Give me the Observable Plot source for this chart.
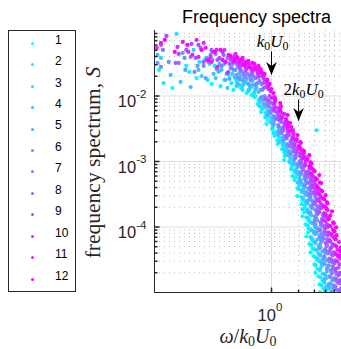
<!DOCTYPE html>
<html><head><meta charset="utf-8">
<script src="https://cdn.jsdelivr.net/npm/d3@7"></script>
<script src="https://cdn.jsdelivr.net/npm/@observablehq/plot@0.6"></script>
<style>
html,body{margin:0;padding:0;background:#fff;overflow:hidden;}
#wrap{position:relative;width:341px;height:349px;}
#wrap svg{display:block;}
#legend{position:absolute;left:8px;top:30px;width:66px;height:260px;border:1px solid #262626;background:#fff;}
.row{position:absolute;left:0;width:100%;height:21.45px;}
.sw{position:absolute;left:21.5px;top:9.2px;width:3px;height:3px;border-radius:50%;}
.lb{position:absolute;left:46px;top:0;line-height:21.45px;font:12px "Liberation Sans",Arial,sans-serif;color:#000;}
</style></head><body><div id="wrap"></div>
<script>
// ---- data (omega/k0U0, S) per series ----
const seriesNames = ["1","2","3","4","5","6","7","8","9","10","11","12"];
const s1 = [[0.056,0.025],[0.079,0.0133],[0.113,0.0288],[0.147,0.0188],[0.18,0.0355],[0.215,0.0153],[0.258,0.0233],[0.3,0.0176],[0.341,0.0202],[0.378,0.0124],[0.409,0.0164],[0.453,0.0133],[0.489,0.0153],[0.528,0.0111],[0.57,0.0128],[0.599,0.0104],
[0.664,0.01],[0.717,0.00869],[0.699,0.00755],[0.774,0.00656],[0.765,0.00569],[0.926,0.00494],[0.902,0.0043],[0.88,0.00373],[1.026,0.00324],[1.108,0.00282],[1.08,0.00245],[1.166,0.00212],[1.17,0.00185],[1.395,0.0016],[1.39,0.00139],[1.4,0.00121],[1.38,0.00105],[1.668,0.00091],[1.66,0.00079],[1.801,0.00069],[1.711,0.0006],[1.8,0.00052],[2.047,0.00045],[1.945,0.00039],[2.154,0.00034],[1.94,0.000296],[2.21,0.000257],[2.154,0.000223],[2.387,0.000194],[2.326,0.000168],[2.21,0.000146],[2.577,0.000127],[2.387,0.00011],[2.577,9.6e-5],[2.55,8.3e-5],[2.448,7.2e-5],[2.855,6.3e-5],[2.644,5.5e-5],[2.855,4.7e-5],[2.712,4.1e-5],[2.929,3.6e-5],[3.244,3.1e-5],[3.005,2.7e-5],[3.22,2.3e-5],[3.082,2e-5],[3.328,1.77e-5],[3.687,1.54e-5],[3.415,1.33e-5],[3.783,1.16e-5],[3.45,1.01e-5]];
const s2 = [[0.063,0.0158],[0.088,0.0887],[0.122,0.0233],[0.158,0.0331],[0.195,0.0176],[0.233,0.0288],[0.271,0.0142],[0.316,0.0217],[0.359,0.0158],[0.398,0.0182],[0.441,0.0147],[0.476,0.0124],[0.514,0.0164],[0.555,0.0119],[0.599,0.0137],[0.631,0.0107],
[0.647,0.00966],[0.736,0.00839],[0.815,0.00729],[0.794,0.00633],[0.858,0.0055],[0.85,0.00477],[1.026,0.00415],[1.03,0.0036],[1.02,0.00313],[1.052,0.00272],[1.227,0.00236],[1.24,0.00205],[1.325,0.00178],[1.31,0.00155],[1.431,0.00134],[1.626,0.00117],[1.585,0.00101],[1.756,0.00088],[1.668,0.00076],[1.896,0.00066],[1.848,0.00058],[2.047,0.0005],[2.03,0.00043],[1.995,0.00038],[2.326,0.000328],[2.154,0.000286],[2.36,0.000248],[2.326,0.000215],[2.21,0.000187],[2.577,0.000163],[2.448,0.000141],[2.644,0.000122],[2.512,0.000106],[2.712,9.2e-5],[2.97,8e-5],[2.73,7e-5],[2.929,6.1e-5],[2.783,5.3e-5],[3.005,4.55e-5],[3.328,3.95e-5],[3.082,3.45e-5],[3.415,3e-5],[3.1,2.6e-5],[3.43,2.25e-5],[3.687,1.95e-5],[3.503,1.71e-5],[3.783,1.49e-5],[3.594,1.29e-5],[4.19,1.12e-5],[3.16,0.003]];
const s3 = [[0.059,0.0381],[0.0975,0.0164],[0.136,0.0505],[0.167,0.0202],[0.205,0.0309],[0.239,0.0188],[0.278,0.025],[0.324,0.0133],[0.369,0.0217],[0.409,0.0142],[0.441,0.0176],[0.476,0.0142],[0.514,0.0158],[0.555,0.0124],[0.599,0.0147],[0.647,0.0115],[0.681,0.0133],
[0.755,0.00932],[0.75,0.0081],[0.736,0.00703],[0.902,0.00611],[0.9,0.00531],[0.99,0.00461],[0.975,0.004],[1.04,0.00348],[1.22,0.00302],[1.196,0.00262],[1.325,0.00228],[1.227,0.00198],[1.431,0.00172],[1.42,0.00149],[1.626,0.0013],[1.62,0.00113],[1.585,0.00098],[1.945,0.00085],[1.848,0.00074],[1.995,0.00064],[2.03,0.00056],[1.945,0.00048],[2.268,0.00042],[2.154,0.000365],[2.387,0.000317],[2.25,0.000276],[2.448,0.000239],[2.712,0.000208],[2.512,0.000181],[2.7,0.000157],[2.577,0.000136],[2.75,0.000118],[3.03,0.000103],[2.783,8.9e-5],[3.082,7.8e-5],[2.79,6.7e-5],[3.07,5.9e-5],[3.328,5.1e-5],[3.162,4.4e-5],[3.415,3.8e-5],[3.244,3.3e-5],[3.783,2.9e-5],[3.594,2.5e-5],[3.44,2.2e-5],[3.881,1.9e-5],[4.084,1.65e-5],[3.87,1.43e-5],[4.06,1.24e-5],[3.95,1.08e-5]];
const s4 = [[0.054,0.0424],[0.0755,0.021],[0.126,0.0137],[0.154,0.025],[0.19,0.0381],[0.227,0.0217],[0.264,0.0309],[0.308,0.0176],[0.35,0.0268],[0.388,0.0195],[0.419,0.0153],[0.453,0.0202],[0.489,0.0164],[0.528,0.0182],[0.57,0.0142],[0.615,0.017],[0.664,0.0128],[0.717,0.0115],
[0.755,0.009],[0.88,0.00782],[0.858,0.00679],[0.975,0.0059],[0.902,0.00512],[1.052,0.00445],[1.04,0.00386],[1.196,0.00336],[1.19,0.00292],[1.18,0.00253],[1.431,0.0022],[1.359,0.00191],[1.506,0.00166],[1.545,0.00144],[1.52,0.00125],[1.801,0.00109],[1.78,0.00094],[1.945,0.00082],[1.896,0.00071],[2.08,0.00062],[2.326,0.00054],[2.154,0.00047],[2.34,0.0004],[2.25,0.000352],[2.448,0.000306],[2.73,0.000266],[2.512,0.000231],[2.783,0.000201],[2.52,0.000174],[2.79,0.000151],[3.02,0.000131],[2.855,0.000114],[3.082,9.9e-5],[2.929,8.6e-5],[3.415,7.5e-5],[3.244,6.5e-5],[3.07,5.7e-5],[3.503,4.9e-5],[3.687,4.25e-5],[3.49,3.7e-5],[3.68,3.2e-5],[3.594,2.8e-5],[4.19,2.4e-5],[4.12,2.1e-5],[3.981,1.83e-5],[3.881,1.6e-5],[4.525,1.38e-5],[4.41,1.2e-5],[4.6,1.04e-5]];
const s5 = [[0.054,0.032],[0.103,0.0455],[0.11,0.025],[0.15,0.0288],[0.185,0.0188],[0.221,0.0355],[0.258,0.0241],[0.3,0.0309],[0.341,0.0182],[0.378,0.025],[0.409,0.021],[0.441,0.0225],[0.476,0.0176],[0.514,0.0202],[0.555,0.0153],[0.599,0.0188],[0.647,0.0147],[0.699,0.0158],[0.755,0.0124],
[0.836,0.01],[0.815,0.00869],[0.826,0.00755],[0.99,0.00656],[0.95,0.00569],[1.052,0.00494],[1.08,0.0043],[1.06,0.00373],[1.27,0.00324],[1.24,0.00282],[1.377,0.00245],[1.35,0.00212],[1.49,0.00185],[1.7,0.0016],[1.61,0.00139],[1.79,0.00121],[1.756,0.00105],[1.945,0.00091],[2.21,0.00079],[2.08,0.00069],[2.32,0.0006],[2.1,0.00052],[2.36,0.00045],[2.56,0.00039],[2.45,0.00034],[2.67,0.000296],[2.56,0.000257],[2.98,0.000223],[2.83,0.000194],[2.69,0.000168],[3.06,0.000146],[3.22,0.000127],[3.08,0.00011],[3.23,9.6e-5],[3.15,8.3e-5],[3.66,7.2e-5],[3.57,6.3e-5],[3.48,5.5e-5],[3.39,4.7e-5],[3.95,4.1e-5],[3.87,3.6e-5],[4.084,3.1e-5],[3.9,2.7e-5],[4.12,2.3e-5],[4.7,2e-5],[4.44,1.77e-5],[4.77,1.54e-5],[4.31,1.33e-5],[4.87,1.16e-5],[4.74,1.01e-5]];
const s6 = [[0.059,0.0278],[0.072,0.0331],[0.108,0.0381],[0.139,0.0233],[0.176,0.0288],[0.21,0.0424],[0.245,0.0259],[0.285,0.0355],[0.333,0.0233],[0.369,0.0309],[0.398,0.025],[0.43,0.0188],[0.464,0.0241],[0.501,0.0195],[0.541,0.0217],[0.584,0.0176],[0.631,0.0202],[0.681,0.0153],[0.736,0.017],[0.794,0.0124],
[0.774,0.00966],[0.92,0.00839],[0.902,0.00729],[1.0,0.00633],[0.98,0.0055],[1.094,0.00477],[1.245,0.00415],[1.19,0.0036],[1.32,0.00313],[1.29,0.00272],[1.43,0.00236],[1.626,0.00205],[1.55,0.00178],[1.76,0.00155],[1.64,0.00134],[1.86,0.00117],[2.06,0.00101],[2.02,0.00088],[2.24,0.00076],[2.154,0.00066],[2.53,0.00058],[2.43,0.0005],[2.326,0.00043],[2.66,0.00038],[2.83,0.000328],[2.71,0.000286],[2.86,0.000248],[2.8,0.000215],[3.27,0.000187],[3.19,0.000163],[3.1,0.000141],[3.03,0.000122],[3.55,0.000106],[3.47,9.2e-5],[3.64,8e-5],[3.46,7e-5],[3.62,6.1e-5],[4.14,5.3e-5],[3.93,4.55e-5],[4.25,3.95e-5],[3.86,3.45e-5],[4.41,3e-5],[4.32,2.6e-5],[4.8,2.25e-5],[4.68,1.95e-5],[4.55,1.71e-5],[5.29,1.49e-5],[4.886,1.29e-5],[5.26,1.12e-5]];
const s7 = [[0.062,0.0505],[0.093,0.032],[0.126,0.0395],[0.163,0.0542],[0.1995,0.0331],[0.239,0.0439],[0.278,0.0288],[0.324,0.0381],[0.359,0.0268],[0.388,0.0343],[0.419,0.0288],[0.453,0.025],[0.489,0.0217],[0.528,0.0268],[0.57,0.0202],[0.615,0.0233],[0.664,0.0188],[0.717,0.0195],[0.774,0.0153],[0.815,0.0133],
[0.86,0.00932],[0.95,0.0081],[0.93,0.00703],[1.04,0.00611],[1.18,0.00531],[1.13,0.00461],[1.29,0.004],[1.196,0.00348],[1.36,0.00302],[1.51,0.00262],[1.48,0.00228],[1.64,0.00198],[1.6,0.00172],[1.92,0.00149],[1.88,0.0013],[1.83,0.00113],[2.14,0.00098],[2.32,0.00085],[2.268,0.00074],[2.4,0.00064],[2.37,0.00056],[2.783,0.00048],[2.73,0.00042],[2.7,0.000365],[2.65,0.000317],[3.11,0.000276],[3.05,0.000239],[3.22,0.000208],[3.08,0.000181],[3.24,0.000157],[3.687,0.000136],[3.51,0.000118],[3.79,0.000103],[3.43,8.9e-5],[3.91,7.8e-5],[3.81,6.7e-5],[4.22,5.9e-5],[4.11,5.1e-5],[4.01,4.4e-5],[4.7,3.8e-5],[4.38,3.3e-5],[4.75,2.9e-5],[4.79,2.5e-5],[4.57,2.2e-5],[5.32,1.9e-5],[5.04,1.65e-5],[5.43,1.43e-5],[5.142,1.24e-5],[5.54,1.08e-5]];
const s8 = [[0.059,0.0602],[0.086,0.032],[0.113,0.0505],[0.143,0.0381],[0.176,0.0331],[0.215,0.0505],[0.251,0.0355],[0.293,0.0424],[0.341,0.0309],[0.378,0.0381],[0.409,0.032],[0.441,0.0268],[0.476,0.0309],[0.514,0.0241],[0.555,0.0278],[0.599,0.0217],[0.647,0.025],[0.699,0.0195],[0.755,0.0202],[0.815,0.0158],[0.858,0.0137],
[0.86,0.009],[0.99,0.00782],[1.1,0.00679],[1.075,0.0059],[1.196,0.00512],[1.17,0.00445],[1.4,0.00386],[1.37,0.00336],[1.33,0.00292],[1.57,0.00253],[1.7,0.0022],[1.66,0.00191],[1.79,0.00166],[1.78,0.00144],[2.16,0.00125],[2.17,0.00109],[2.13,0.00094],[2.19,0.00082],[2.6,0.00071],[2.56,0.00062],[2.72,0.00054],[2.59,0.00047],[2.77,0.0004],[3.18,0.000352],[3.04,0.000306],[3.328,0.000266],[3.01,0.000231],[3.44,0.000201],[3.36,0.000174],[3.74,0.000151],[3.66,0.000131],[3.57,0.000114],[4.18,9.9e-5],[3.881,8.6e-5],[4.21,7.5e-5],[4.2,6.5e-5],[3.99,5.7e-5],[4.65,4.9e-5],[4.43,4.25e-5],[4.81,3.7e-5],[4.61,3.2e-5],[5.0,2.8e-5],[5.56,2.4e-5],[5.17,2.1e-5],[5.58,1.83e-5],[5.29,1.6e-5],[5.7,1.38e-5],[5.84,1.04e-5]];
const s9 = [[0.068,0.0827],[0.093,0.0439],[0.129,0.0624],[0.154,0.0602],[0.19,0.0355],[0.221,0.0471],[0.264,0.0381],[0.3,0.0505],[0.35,0.0355],[0.388,0.0409],[0.419,0.0331],[0.453,0.0288],[0.489,0.0331],[0.528,0.0259],[0.57,0.0298],[0.615,0.0241],[0.664,0.0268],[0.717,0.021],[0.774,0.0225],[0.836,0.0176],[0.902,0.0137],
[0.95,0.01],[0.915,0.00869],[1.07,0.00755],[1.16,0.00656],[1.14,0.00569],[1.24,0.00494],[1.245,0.0043],[1.49,0.00373],[1.5,0.00324],[1.51,0.00282],[1.47,0.00245],[1.8,0.00212],[1.81,0.00185],[1.95,0.0016],[1.91,0.00139],[2.07,0.00121],[2.43,0.00105],[2.37,0.00091],[2.644,0.00079],[2.44,0.00069],[2.79,0.0006],[2.75,0.00052],[3.07,0.00045],[3.02,0.00039],[2.98,0.00034],[3.51,0.000296],[3.27,0.000257],[3.56,0.000223],[3.58,0.000194],[3.41,0.000168],[3.99,0.000146],[3.8,0.000127],[4.12,0.00011],[3.94,9.6e-5],[4.26,8.3e-5],[4.74,7.2e-5],[4.4,6.3e-5],[4.762,5.5e-5],[4.525,4.7e-5],[4.91,4.1e-5],[5.47,3.6e-5],[5.1,3.1e-5],[5.69,2.7e-5],[5.17,2.3e-5],[5.75,2e-5],[5.87,1.54e-5],[5.97,1.16e-5]];
const s10 = [[0.053,0.0542],[0.09,0.0561],[0.119,0.0471],[0.147,0.0718],[0.176,0.0646],[0.21,0.0395],[0.251,0.0278],[0.285,0.0471],[0.324,0.0225],[0.359,0.0381],[0.398,0.0439],[0.441,0.0309],[0.476,0.0355],[0.514,0.0278],[0.555,0.032],[0.599,0.025],[0.647,0.0288],[0.699,0.0225],[0.755,0.0233],[0.815,0.0188],[0.88,0.0158],[0.926,0.0128],
[1.08,0.00966],[1.09,0.00839],[1.07,0.00729],[1.065,0.00633],[1.31,0.0055],[1.32,0.00477],[1.43,0.00415],[1.4,0.0036],[1.51,0.00313],[1.76,0.00272],[1.73,0.00236],[1.92,0.00205],[1.78,0.00178],[2.09,0.00155],[2.11,0.00134],[2.387,0.00117],[2.4,0.00101],[2.36,0.00088],[2.89,0.00076],[2.712,0.00066],[2.95,0.00058],[3.0,0.0005],[2.87,0.00043],[3.38,0.00038],[3.25,0.000328],[3.55,0.000286],[3.41,0.000248],[3.69,0.000215],[4.1,0.000187],[3.83,0.000163],[4.15,0.000141],[3.97,0.000122],[4.31,0.000106],[4.8,9.2e-5],[4.47,8e-5],[4.96,7e-5],[4.49,6.1e-5],[4.98,5.3e-5],[5.4,4.55e-5],[5.16,3.95e-5],[5.61,3.45e-5],[5.37,3e-5]];
const s11 = [[0.059,0.0646],[0.103,0.0669],[0.132,0.0424],[0.154,0.0395],[0.185,0.0542],[0.215,0.0331],[0.245,0.0505],[0.285,0.0355],[0.333,0.0424],[0.378,0.0331],[0.409,0.0395],[0.441,0.0331],[0.476,0.0381],[0.514,0.0298],[0.555,0.0343],[0.599,0.0268],[0.647,0.0309],[0.699,0.025],[0.755,0.0259],[0.815,0.0202],[0.88,0.0176],[0.926,0.0142],[0.975,0.0119],
[1.01,0.00932],[1.085,0.0081],[1.27,0.00703],[1.25,0.00611],[1.39,0.00531],[1.29,0.00461],[1.51,0.004],[1.52,0.00348],[1.73,0.00302],[1.75,0.00262],[1.71,0.00228],[2.1,0.00198],[1.995,0.00172],[2.21,0.00149],[2.28,0.0013],[2.24,0.00113],[2.69,0.00098],[2.63,0.00085],[2.929,0.00074],[2.8,0.00064],[3.07,0.00056],[3.44,0.00048],[3.22,0.00042],[3.52,0.000365],[3.38,0.000317],[3.687,0.000276],[4.12,0.000239],[3.85,0.000208],[4.19,0.000181],[4.0,0.000157],[4.34,0.000136],[4.84,0.000118],[4.51,0.000103],[4.91,8.9e-5],[4.67,7.8e-5],[5.06,6.7e-5],[5.64,5.9e-5],[5.24,5.1e-5],[5.82,4.4e-5],[5.29,3.8e-5],[5.9,3.3e-5]];
const s12 = [[0.065,0.0718],[0.084,0.0471],[0.116,0.0602],[0.167,0.0505],[0.1995,0.0355],[0.233,0.0471],[0.271,0.0505],[0.308,0.0331],[0.35,0.0409],[0.388,0.0355],[0.419,0.0381],[0.453,0.0355],[0.489,0.0298],[0.528,0.0331],[0.57,0.0278],[0.615,0.032],[0.664,0.0259],[0.717,0.0288],[0.774,0.0233],[0.836,0.0217],[0.902,0.0176],[0.95,0.0153],[1.0,0.0128],[1.052,0.0111],
[1.1,0.009],[1.25,0.00782],[1.26,0.00679],[1.24,0.0059],[1.51,0.00512],[1.45,0.00445],[1.61,0.00386],[1.66,0.00336],[1.62,0.00292],[1.945,0.00253],[1.9,0.0022],[2.11,0.00191],[2.06,0.00166],[2.3,0.00144],[2.63,0.00125],[2.512,0.00109],[2.79,0.00094],[2.73,0.00082],[3.02,0.00071],[3.4,0.00062],[3.19,0.00054],[3.57,0.00047],[3.25,0.0004],[3.66,0.000352],[3.99,0.000306],[3.85,0.000266],[4.19,0.000231],[4.01,0.000201],[4.7,0.000174],[4.5,0.000151],[4.31,0.000131],[4.92,0.000114],[5.23,9.9e-5],[5.0,8.6e-5],[5.29,7.5e-5],[5.18,6.5e-5],[5.92,4.9e-5],[5.8,4.25e-5],[5.7,3.7e-5]];
const seriesPoints = [s1,s2,s3,s4,s5,s6,s7,s8,s9,s10,s11,s12];

// axes / ticks
const xDomain = [0.05, 6];
const yDomain = [1e-5, 0.1];
const xMajor = [1];
const xMinor = [2, 3, 4, 5];
const yMajor = [1e-4, 1e-3, 1e-2];
const yMinor = [2e-5,3e-5,4e-5,5e-5,6e-5,7e-5,8e-5,9e-5,2e-4,3e-4,4e-4,5e-4,6e-4,7e-4,8e-4,9e-4,2e-3,3e-3,4e-3,5e-3,6e-3,7e-3,8e-3,9e-3,2e-2,3e-2,4e-2,5e-2,6e-2,7e-2,8e-2,9e-2];

// annotations
const arrowX = [1, 2];
const arrowTail = [0.047, 0.0087];
const arrowTip = [0.021, 0.00415];
const noteText = ["k0U0", "2k0U0"];
const noteX = [1.026, 2.27];
const noteY = [0.056, 0.01035];

const table = seriesPoints.flatMap((pts, i) => pts.map(([x, y]) => ({x, y, series: seriesNames[i]})));
const arrows = arrowX.map((x, i) => ({x, tail: arrowTail[i], tip: arrowTip[i]}));
const notes = noteText.map((t, i) => ({text: t, x: noteX[i], y: noteY[i]}));

const colorRange = d3.quantize(d3.interpolateRgb("rgb(0,255,255)", "rgb(255,0,255)"), seriesNames.length);
const hTick = (len) => ({draw(ctx) { ctx.moveTo(0, 0); ctx.lineTo(len, 0); }});
const vTick = (len) => ({draw(ctx) { ctx.moveTo(0, 0); ctx.lineTo(0, -len); }});
const arrowHead = {draw(ctx) { ctx.moveTo(0, 0); ctx.lineTo(-5.3, -13); ctx.lineTo(0, -9); ctx.lineTo(5.3, -13); ctx.closePath(); }};
const SANS = "Liberation Sans, Arial, Helvetica, sans-serif";
const SERIF = "Liberation Serif, Times New Roman, serif";
const AX = "#262626";

const plot = Plot.plot({
  width: 341, height: 349,
  marginLeft: 154, marginRight: 0, marginTop: 30, marginBottom: 57,
  style: {background: "transparent", fontFamily: SANS},
  x: {type: "log", domain: xDomain, axis: null},
  y: {type: "log", domain: yDomain, axis: null},
  color: {type: "ordinal", domain: seriesNames, range: colorRange},
  marks: [
    Plot.ruleY(yMinor, {y: d => d, stroke: "#bdbdbd", strokeDasharray: "1,4"}),
    Plot.ruleX(xMinor, {x: d => d, stroke: "#bdbdbd", strokeDasharray: "1,4"}),
    Plot.ruleY(yMajor, {y: d => d, stroke: "#dedede"}),
    Plot.ruleX(xMajor, {x: d => d, stroke: "#dedede"}),
    Plot.dot(table, {x: "x", y: "y", fill: "series", r: 2.1, clip: true}),
    Plot.ruleX([xDomain[0]], {x: d => d, stroke: AX}),
    Plot.ruleY([yDomain[0]], {y: d => d, stroke: AX}),
    Plot.dot(yMajor, {y: d => d, frameAnchor: "left", symbol: hTick(5), fill: "none", stroke: AX}),
    Plot.dot(yMinor, {y: d => d, frameAnchor: "left", symbol: hTick(3), fill: "none", stroke: AX}),
    Plot.dot(xMajor, {x: d => d, frameAnchor: "bottom", symbol: vTick(5), fill: "none", stroke: AX}),
    Plot.dot(xMinor, {x: d => d, frameAnchor: "bottom", symbol: vTick(3), fill: "none", stroke: AX}),
    Plot.text(yMajor, {y: d => d, frameAnchor: "left", text: d => "10^" + Math.round(Math.log10(d)), textAnchor: "end", lineAnchor: "bottom", dx: -8, dy: 11, fontSize: 16.5, fontFamily: SANS, fill: AX}),
    Plot.text(xMajor, {x: d => d, frameAnchor: "bottom", text: d => "10^" + Math.round(Math.log10(d)), textAnchor: "middle", lineAnchor: "bottom", dx: -1.5, dy: 28, fontSize: 16.5, fontFamily: SANS, fill: AX}),
    Plot.text(["Frequency spectra"], {frameAnchor: "top", lineAnchor: "bottom", textAnchor: "middle", dx: 8.5, dy: -8, fontSize: 18, fontFamily: SANS, fill: "#000"}),
    Plot.text(["frequency spectrum, S"], {frameAnchor: "left", rotate: -90, lineAnchor: "bottom", textAnchor: "middle", dx: -55, dy: 1, fontSize: 21.5, fontFamily: SERIF, fill: AX}),
    Plot.text(["ω/k0U0"], {frameAnchor: "bottom", lineAnchor: "bottom", textAnchor: "middle", dy: 50, fontSize: 20, fontFamily: SERIF, fill: AX}),
    Plot.ruleX(arrows, {x: "x", y1: "tail", y2: "tip", stroke: "#000", strokeWidth: 1}),
    Plot.dot(arrows, {x: "x", y: "tip", symbol: arrowHead, fill: "#000", stroke: "none"}),
    Plot.text(notes, {x: "x", y: "y", text: "text", lineAnchor: "bottom", textAnchor: "middle", fontSize: 17, fontFamily: SERIF, fill: "#000"})
  ]
});

const wrap = document.getElementById("wrap");
wrap.appendChild(plot);

// rich text: italics, sub/superscripts
const richDefs = {
  "frequency spectrum, S": [["frequency spectrum, "], ["S", "i"]],
  "ω/k0U0": [["ω", "i"], ["/"], ["k", "i"], ["0", "sub"], ["U", "i"], ["0", "sub"]],
  "k0U0": [["k", "i"], ["0", "sub"], ["U", "i"], ["0", "sub"]],
  "2k0U0": [["2"], ["k", "i"], ["0", "sub"], ["U", "i"], ["0", "sub"]]
};
const NS = "http://www.w3.org/2000/svg";
plot.querySelectorAll("text").forEach(t => {
  const s = t.textContent;
  let segs = richDefs[s];
  if (!segs && s.startsWith("10^")) segs = [["10"], [s.slice(3), "sup"]];
  if (!segs) return;
  const fs = parseFloat(getComputedStyle(t).fontSize) || 16;
  t.textContent = "";
  let shift = 0;
  for (const [str, kind] of segs) {
    const ts = document.createElementNS(NS, "tspan");
    let target = 0, size = null;
    if (kind === "sub") { target = 0.16 * fs; size = 0.7 * fs; }
    if (kind === "sup") { target = -0.55 * fs; size = 0.7 * fs; }
    if (kind === "i") ts.setAttribute("font-style", "italic");
    if (size) ts.setAttribute("font-size", size);
    if (target !== shift) { ts.setAttribute("dy", target - shift); shift = target; }
    ts.textContent = str;
    t.appendChild(ts);
  }
});

// legend
const color = plot.scale("color");
const legend = document.createElement("div");
legend.id = "legend";
seriesNames.forEach((name, i) => {
  const row = document.createElement("div");
  row.className = "row";
  row.style.top = (1.6 + 21.45 * i) + "px";
  const sw = document.createElement("span");
  sw.className = "sw";
  sw.style.background = color.apply(name);
  const lb = document.createElement("span");
  lb.className = "lb";
  lb.textContent = name;
  row.appendChild(sw); row.appendChild(lb);
  legend.appendChild(row);
});
wrap.appendChild(legend);
</script></body></html>
